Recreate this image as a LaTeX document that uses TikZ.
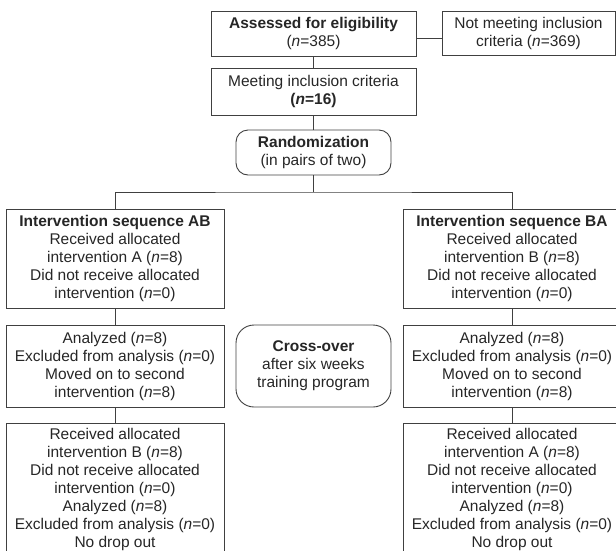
\documentclass[tikz,border=0pt]{standalone}
\usepackage{fontspec}
\setmainfont{Liberation Sans}
\usepackage{tikz}
\usetikzlibrary{calc}
\definecolor{linegray}{gray}{0.25}
\definecolor{textgray}{gray}{0.15}
\tikzset{
  fbox/.style={draw=linegray, line width=0.9pt, text=textgray, align=center, inner sep=0pt,
    font=\fontsize{15.5}{18}\selectfont},
  roundbox/.style={fbox, rounded corners=#1},
  link/.style={draw=linegray, line width=0.9pt}
}
\begin{document}
\begin{tikzpicture}[x=1pt,y=-1pt]
\useasboundingbox (0,0) rectangle (616,550);
\node[fbox, minimum width=205pt, minimum height=45pt] (assess) at (313.5,33.5) {\textbf{Assessed for eligibility}\\(\textit{n}=385)};
\node[fbox, minimum width=173pt, minimum height=44pt] (notmeet) at (528.5,33) {Not meeting inclusion\\criteria (\textit{n}=369)};
\node[fbox, minimum width=205pt, minimum height=47pt] (meet) at (313.5,91.5) {Meeting inclusion criteria\\\textbf{(\textit{n}=16)}};
\node[roundbox=12pt, minimum width=155pt, minimum height=45pt] (rand) at (313.5,152.5) {\textbf{Randomization}\\(in pairs of two)};
\coordinate (split) at (313.5,192);
\node[fbox, minimum width=218pt, minimum height=99pt] (seqAB) at (115,258.5) {\textbf{Intervention sequence AB}\\Received allocated\\intervention A (\textit{n}=8)\\Did not receive allocated\\intervention (\textit{n}=0)};
\node[fbox, minimum width=218pt, minimum height=99pt] (seqBA) at (512,258.5) {\textbf{Intervention sequence BA}\\Received allocated\\intervention B (\textit{n}=8)\\Did not receive allocated\\intervention (\textit{n}=0)};
\node[fbox, minimum width=218pt, minimum height=82pt] (anaAB) at (115,366) {Analyzed (\textit{n}=8)\\Excluded from analysis (\textit{n}=0)\\Moved on to second\\intervention (\textit{n}=8)};
\node[roundbox=18pt, minimum width=155pt, minimum height=82pt] (cross) at (313.5,366) {\textbf{Cross-over}\\after six weeks\\training program};
\node[fbox, minimum width=218pt, minimum height=82pt] (anaBA) at (512,366) {Analyzed (\textit{n}=8)\\Excluded from analysis (\textit{n}=0)\\Moved on to second\\intervention (\textit{n}=8)};
\node[fbox, minimum width=218pt, inner ysep=5pt, anchor=north] (secAB) at (115,423) {Received allocated\\intervention B (\textit{n}=8)\\Did not receive allocated\\intervention (\textit{n}=0)\\Analyzed (\textit{n}=8)\\Excluded from analysis (\textit{n}=0)\\No drop out};
\node[fbox, minimum width=218pt, inner ysep=5pt, anchor=north] (secBA) at (512,423) {Received allocated\\intervention A (\textit{n}=8)\\Did not receive allocated\\intervention (\textit{n}=0)\\Analyzed (\textit{n}=8)\\Excluded from analysis (\textit{n}=0)\\No drop out};
\draw[link] ([yshift=-4.5pt]assess.east) -- ([yshift=-4.5pt]assess.east -| notmeet.west);
\draw[link] (assess) -- (meet);
\draw[link] (meet) -- (rand);
\draw[link] (rand) -- (split);
\draw[link] (seqAB.north) |- (split) -| (seqBA.north);
\draw[link] (seqAB) -- (anaAB);
\draw[link] (seqBA) -- (anaBA);
\draw[link] (anaAB) -- (secAB);
\draw[link] (anaBA) -- (secBA);
\end{tikzpicture}
\end{document}
